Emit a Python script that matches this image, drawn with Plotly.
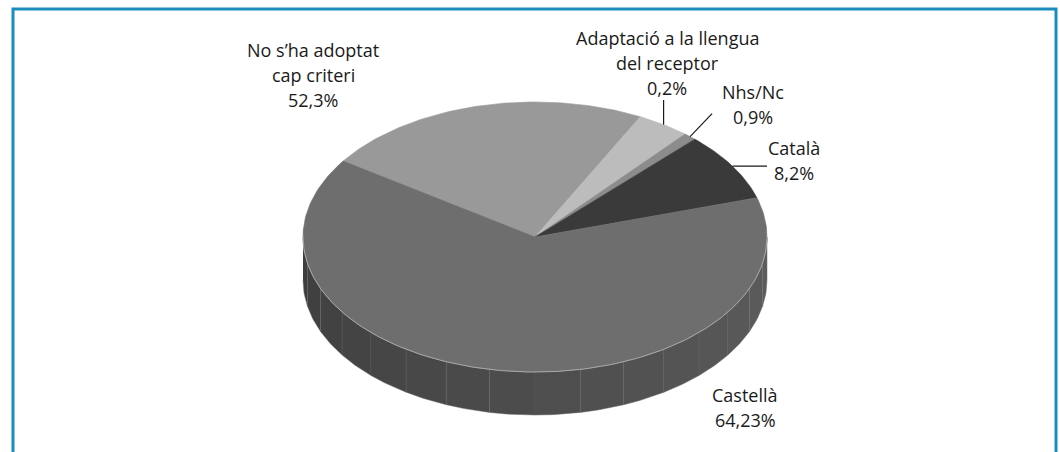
import numpy as np
import plotly.graph_objects as go

# slice shares (clockwise from the left edge)
categories = ["No s’ha adoptat cap criteri", "Adaptació a la llengua del receptor",
              "Nhs/Nc", "Català", "Castellà"]
shares = [23.0, 3.7, 0.9, 8.2, 64.2]
# labels as printed in the chart
name_lines = [["No s’ha adoptat", "cap criteri"], ["Adaptació a la llengua", "del receptor"],
              ["Nhs/Nc"], ["Català"], ["Castellà"]]
value_labels = ["52,3%", "0,2%", "0,9%", "8,2%", "64,23%"]

colors = ["#999999", "#bcbcbc", "#8c8c8c", "#3a3a3a", "#6e6e6e"]

# pie geometry (pixel space)
cx, cy, ra, rb, depth = 535, 237, 232, 135, 43
start_deg = 145.8

# label placement: (center x, first line y)
label_pos = [(313, 50), (667, 38), (753, 92), (794, 148), (745, 395)]
line_gap = 25

W, H = 1060, 452


def edge(theta):
    t = np.radians(theta)
    return cx + ra * np.cos(t), cy - rb * np.sin(t)


fig = go.Figure()

# side wall (front half only is visible)
n_strips = 16
wall = np.linspace(180, 360, n_strips + 1)
for i in range(n_strips):
    th = np.linspace(wall[i], wall[i + 1], 12)
    xs, ys = edge(th)
    px_ = np.concatenate([xs, xs[::-1]])
    py_ = np.concatenate([ys, ys[::-1] + depth])
    g = int(62 + (92 - 62) * i / (n_strips - 1))
    col = f"rgb({g},{g},{g})"
    fig.add_trace(go.Scatter(x=px_, y=py_, fill="toself", fillcolor=col, mode="lines",
                             line=dict(color="rgb(105,105,105)", width=0.5),
                             hoverinfo="skip", showlegend=False))

# top face slices
fracs = np.array(shares) / sum(shares)
angle = start_deg
mids = []
for frac, col in zip(fracs, colors):
    sweep = frac * 360
    th = np.linspace(angle, angle - sweep, max(int(sweep), 2) + 1)
    xs, ys = edge(th)
    fig.add_trace(go.Scatter(x=np.concatenate([[cx], xs, [cx]]),
                             y=np.concatenate([[cy], ys, [cy]]),
                             fill="toself", fillcolor=col, mode="lines",
                             line=dict(color=col, width=0.6),
                             hoverinfo="skip", showlegend=False))
    mids.append(angle - sweep / 2)
    angle -= sweep

# light rim along the front edge of the top face
th = np.linspace(180, 360, 181)
xs, ys = edge(th)
fig.add_trace(go.Scatter(x=xs, y=ys, mode="lines", line=dict(color="#a8a8a8", width=1),
                         hoverinfo="skip", showlegend=False))

# leader lines for the small slices
leaders = {1: ("v", 100), 2: ("d", (22, -23)), 3: ("h", 767)}
for idx, (kind, arg) in leaders.items():
    x0, y0 = edge(mids[idx])
    if kind == "v":
        x1, y1 = x0, arg
    elif kind == "h":
        x1, y1 = arg, y0
    else:
        x1, y1 = x0 + arg[0], y0 + arg[1]
    fig.add_trace(go.Scatter(x=[x0, x1], y=[y0, y1], mode="lines",
                             line=dict(color="#1a1a1a", width=1.2),
                             hoverinfo="skip", showlegend=False))

annotations = []
for (lx, ly), lines, val in zip(label_pos, name_lines, value_labels):
    for k, txt in enumerate(lines + [val]):
        annotations.append(dict(x=lx, y=ly + k * line_gap, text=txt, showarrow=False,
                                xanchor="center", yanchor="middle",
                                font=dict(size=18, color="#1a1a1a")))

fig.update_layout(
    width=W, height=H,
    margin=dict(l=0, r=0, t=0, b=0),
    paper_bgcolor="white", plot_bgcolor="white",
    font_family="Open Sans",
    annotations=annotations,
    shapes=[dict(type="rect", xref="x", yref="y", x0=13, y0=9, x1=1056, y1=470,
                 line=dict(color="#1a8cc0", width=3))],
)
fig.update_xaxes(range=[0, W], visible=False, fixedrange=True)
fig.update_yaxes(range=[H, 0], visible=False, fixedrange=True)

fig.write_html("out.html", config={"displayModeBar": False},
               post_script="document.body.style.margin = '0';")
